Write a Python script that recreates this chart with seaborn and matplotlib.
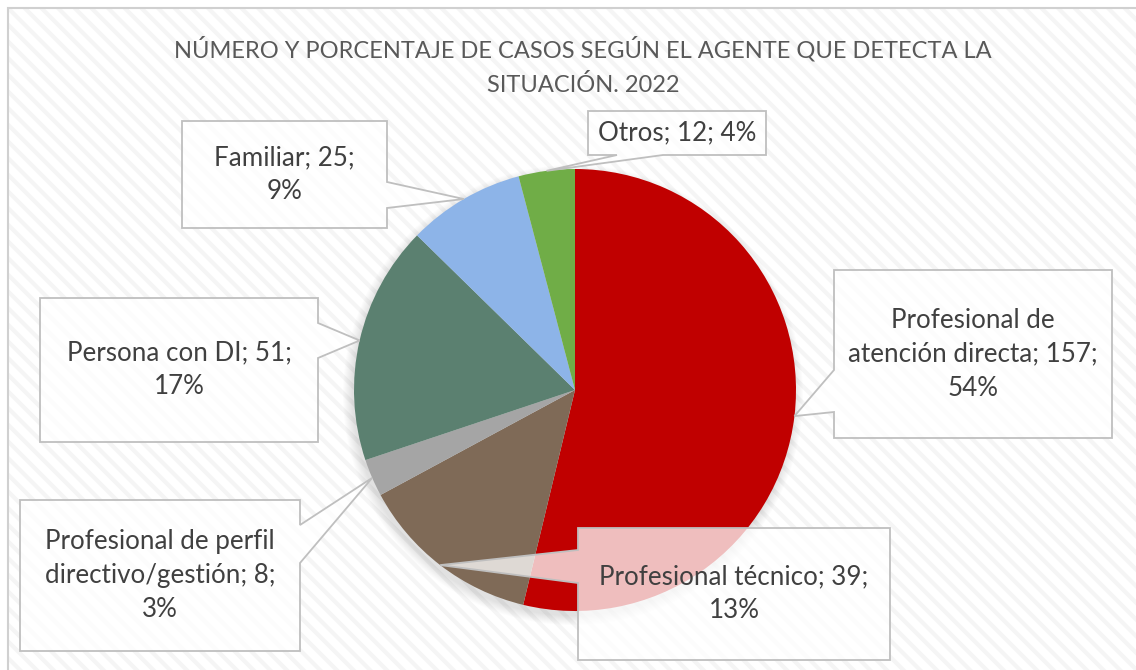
import matplotlib
matplotlib.use("Agg")
import numpy as np
import matplotlib.pyplot as plt
import seaborn as sns
from matplotlib.patches import Rectangle, Polygon, Circle

# data
categories = ["Profesional de\natención directa", "Profesional técnico",
              "Profesional de perfil\ndirectivo/gestión", "Persona con DI",
              "Familiar", "Otros"]
casos = [157, 39, 8, 51, 25, 12]
porcentajes = [54, 13, 3, 17, 9, 4]
colores = ["#C00000", "#7F6A57", "#A5A5A5", "#5B8070", "#8DB4E8", "#70AD47"]

W, H = 1136, 670
CX, CY, R = 575, H - 390, 221

# callout boxes in image pixels: x0, x1, ytop, ybottom, side, base (two positions along side)
callouts = [
    (834, 1112, 270, 438, "left", (370, 412)),
    (578, 890, 528, 660, "left", (550, 583)),
    (20, 300, 500, 651, "right", (525, 563)),
    (40, 318, 298, 442, "right", (323, 358)),
    (182, 387, 121, 228, "right", (182, 208)),
    (588, 766, 111, 155, "bottom", (617, 663)),
]

sns.set_theme(style="white")
plt.rcParams["font.family"] = ["Lato", "DejaVu Sans"]
plt.rcParams["hatch.linewidth"] = 3

fig = plt.figure(figsize=(W / 100, H / 100), dpi=100)
ax = fig.add_axes([0, 0, 1, 1])

# chart area background (hatched) + border
ax.add_patch(Rectangle((8, -10), W, H - 8 + 10, facecolor="white",
                       edgecolor="#F5F5F5", linewidth=0, hatch="\\\\", zorder=0))
ax.add_patch(Rectangle((8, -10), W, H - 8 + 10, facecolor="none",
                       edgecolor="#D0D0D0", linewidth=1.5, zorder=0.5))

# soft shadow under the pie
for k in range(10):
    ax.add_patch(Circle((CX - 2, CY - 5), R + k, facecolor="black",
                        alpha=0.012, linewidth=0, zorder=1))

wedges, _ = ax.pie(casos, colors=colores, startangle=90, counterclock=False,
                   center=(CX, CY), radius=R, frame=True,
                   wedgeprops=dict(linewidth=0, zorder=2))
ax.set_xlim(0, W)
ax.set_ylim(0, H)
ax.set_aspect("equal")
ax.axis("off")


def callout_poly(x0, x1, yt, yb, side, base, anchor):
    top, bot = H - yt, H - yb
    pts = [(x0, bot)]
    if side == "bottom":
        pts += [(base[0], bot), anchor, (base[1], bot)]
    pts.append((x1, bot))
    if side == "right":
        pts += [(x1, H - base[1]), anchor, (x1, H - base[0])]
    pts.append((x1, top))
    pts.append((x0, top))
    if side == "left":
        pts += [(x0, H - base[0]), anchor, (x0, H - base[1])]
    return pts


for i, (w, cat) in enumerate(zip(wedges, categories)):
    mid = np.deg2rad((w.theta1 + w.theta2) / 2)
    anchor = (CX + R * np.cos(mid), CY + R * np.sin(mid))
    x0, x1, yt, yb, side, base = callouts[i]
    pts = callout_poly(x0, x1, yt, yb, side, base, anchor)
    ax.add_patch(Polygon(pts, closed=True, facecolor="white", alpha=0.75,
                         edgecolor="none", zorder=3))
    ax.add_patch(Polygon(pts, closed=True, facecolor="none",
                         edgecolor="#BFBFBF", linewidth=1.3, zorder=4))
    if cat == "Otros":
        txt = f"{cat}; {casos[i]}; {porcentajes[i]}%"
    else:
        txt = f"{cat}; {casos[i]};\n{porcentajes[i]}%"
    ax.text((x0 + x1) / 2, H - (yt + yb) / 2, txt, ha="center", va="center",
            fontsize=18.7, color="#404040", linespacing=1.45, zorder=5)

ax.text(583, H - 66, "NÚMERO Y PORCENTAJE DE CASOS SEGÚN EL AGENTE QUE DETECTA LA\nSITUACIÓN. 2022",
        ha="center", va="center", fontsize=17, color="#595959", linespacing=1.72, zorder=5)

fig.savefig("out.png", dpi=100)
